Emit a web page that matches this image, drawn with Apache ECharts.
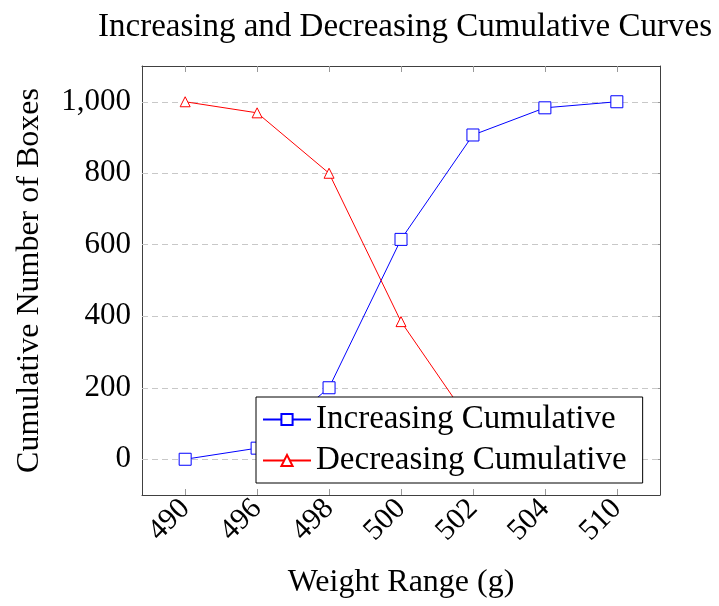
<!DOCTYPE html>
<html>
<head>
<meta charset="utf-8">
<script src="https://cdn.jsdelivr.net/npm/echarts@6/dist/echarts.min.js"></script>
<style>html,body{margin:0;padding:0;background:#fff;}#c{width:719px;height:606px;}</style>
</head>
<body>
<div id="c"></div>
<script>
const categories = ['490', '496', '498', '500', '502', '504', '510'];
const increasing = [0, 31, 200, 615, 907, 983, 1000];
const decreasing = [1000, 969, 800, 385, 93, 17, 0];
const yTicks = [0, 200, 400, 600, 800, 1000];

const FONT = 'Liberation Serif';
const idx = categories.map((_, i) => i);
const chart = echarts.init(document.getElementById('c'));
const fmtY = v => v >= 1000 ? Math.floor(v/1000) + ',' + String(v % 1000).padStart(3, '0') : String(v);

const xBase = {
  type: 'value', min: -0.6, max: 6.6,
  axisLine: { show: true, onZero: false, lineStyle: { color: '#404040', width: 1 } },
  splitLine: { show: false },
  axisTick: { show: true, inside: true, length: 6, customValues: idx, lineStyle: { color: '#999' } }
};
const yBase = {
  type: 'value', min: -100, max: 1100,
  axisLine: { show: true, onZero: false, lineStyle: { color: '#404040', width: 1 } },
  splitLine: { show: false },
  axisTick: { show: true, inside: true, length: 6, customValues: yTicks, lineStyle: { color: '#999' } }
};

chart.setOption({
  animation: false,
  title: {
    text: 'Increasing and Decreasing Cumulative Curves',
    left: 400, top: 6, textAlign: 'center',
    textStyle: { fontFamily: FONT, fontSize: 33, fontWeight: 'normal', color: '#000' }
  },
  grid: { left: 142, right: 59, top: 66, bottom: 111 },
  xAxis: [
    Object.assign({}, xBase, {
      position: 'bottom',
      name: 'Weight Range (g)', nameLocation: 'middle', nameGap: 72,
      nameTextStyle: { fontFamily: FONT, fontSize: 32, color: '#000' },
      axisLabel: { show: true, customValues: idx, rotate: 45, margin: 9,
        fontFamily: FONT, fontSize: 30, color: '#000',
        formatter: v => categories[Math.round(v)] }
    }),
    Object.assign({}, xBase, { position: 'top', axisLabel: { show: false } })
  ],
  yAxis: [
    Object.assign({}, yBase, {
      position: 'left',
      name: 'Cumulative Number of Boxes', nameLocation: 'middle', nameGap: 96,
      nameTextStyle: { fontFamily: FONT, fontSize: 32, color: '#000' },
      axisLabel: { show: true, customValues: yTicks, margin: 11,
        fontFamily: FONT, fontSize: 31, color: '#000', formatter: fmtY }
    }),
    Object.assign({}, yBase, { position: 'right', axisLabel: { show: false } })
  ],
  legend: {
    left: 256, top: 397, orient: 'vertical', z: 10,
    backgroundColor: '#fff', borderColor: '#000', borderWidth: 1,
    padding: [6, 16, 6, 6], itemGap: 8, itemWidth: 48, itemHeight: 14,
    textStyle: { fontFamily: FONT, fontSize: 33, color: '#000' },
    data: ['Increasing Cumulative', 'Decreasing Cumulative']
  },
  series: [
    {
      name: 'grid', type: 'line', data: [], silent: true, z: 1,
      markLine: {
        silent: true, symbol: 'none', label: { show: false }, z: 1,
        lineStyle: { color: '#c8c8c8', type: [6, 4], width: 1 },
        data: yTicks.map(v => ({ yAxis: v }))
      }
    },
    {
      name: 'Increasing Cumulative', type: 'line', z: 3,
      data: increasing.map((v, i) => [i, v]),
      symbol: 'rect', symbolSize: 12,
      lineStyle: { color: '#0000ff', width: 1 },
      itemStyle: { color: '#ffffff', borderColor: '#0000ff', borderWidth: 1 }
    },
    {
      name: 'Decreasing Cumulative', type: 'line', z: 3,
      data: decreasing.map((v, i) => [i, v]),
      symbol: 'triangle', symbolSize: 10,
      lineStyle: { color: '#ff0000', width: 1 },
      itemStyle: { color: '#ffffff', borderColor: '#ff0000', borderWidth: 1 }
    }
  ]
});
</script>
</body>
</html>
